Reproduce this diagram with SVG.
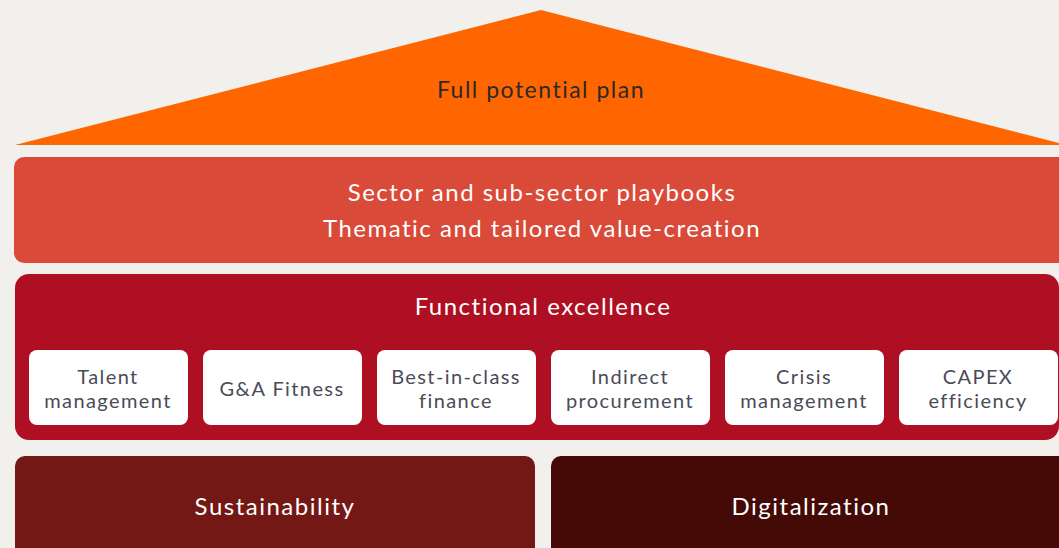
<svg xmlns="http://www.w3.org/2000/svg" width="1059" height="548" viewBox="0 0 1059 548">
<style>
.t{font-family:Lato,"Open Sans",sans-serif;text-anchor:middle}
.w{fill:#ffffff}
.big{font-size:24px;letter-spacing:1.5px}
.sm{font-size:20px;fill:#4b4b57;letter-spacing:1.4px}
.box{fill:#ffffff}
</style>
<rect width="1059" height="548" fill="#f1f0ed"/>
<g id="roof">
<polygon points="15,145 541,10 1067,145" fill="#ff6600"/>
<text class="t" x="541" y="98" font-size="23" fill="#2a2a2a" letter-spacing="1.5">Full potential plan</text>
</g>
<g id="playbooks">
<rect x="14" y="157" width="1060" height="106" rx="10" fill="#d94a38"/>
<text class="t w big" x="542" y="201">Sector and sub-sector playbooks</text>
<text class="t w big" x="542" y="237">Thematic and tailored value-creation</text>
</g>
<g id="functional">
<rect x="15" y="274" width="1044" height="166" rx="14" fill="#ae0f23"/>
<text class="t w big" x="543" y="315">Functional excellence</text>
</g>
<g id="talent"><rect class="box" x="29" y="350" width="159" height="75" rx="8"/><text class="t sm" x="108" y="384">Talent</text><text class="t sm" x="108" y="408">management</text></g>
<g id="ga"><rect class="box" x="203" y="350" width="159" height="75" rx="8"/><text class="t sm" x="282" y="396">G&amp;A Fitness</text></g>
<g id="finance"><rect class="box" x="377" y="350" width="159" height="75" rx="8"/><text class="t sm" x="456" y="384">Best-in-class</text><text class="t sm" x="456" y="408">finance</text></g>
<g id="procurement"><rect class="box" x="551" y="350" width="159" height="75" rx="8"/><text class="t sm" x="630" y="384">Indirect</text><text class="t sm" x="630" y="408">procurement</text></g>
<g id="crisis"><rect class="box" x="725" y="350" width="159" height="75" rx="8"/><text class="t sm" x="804" y="384">Crisis</text><text class="t sm" x="804" y="408">management</text></g>
<g id="capex"><rect class="box" x="899" y="350" width="159" height="75" rx="8"/><text class="t sm" x="978" y="384">CAPEX</text><text class="t sm" x="978" y="408">efficiency</text></g>
<g id="sustainability">
<rect x="15" y="456" width="520" height="110" rx="10" fill="#731815"/>
<text class="t w big" x="275" y="515">Sustainability</text>
</g>
<g id="digitalization">
<rect x="551" y="456" width="520" height="110" rx="10" fill="#440a05"/>
<text class="t w big" x="811" y="515">Digitalization</text>
</g>
<g id="connectors"></g>
</svg>
